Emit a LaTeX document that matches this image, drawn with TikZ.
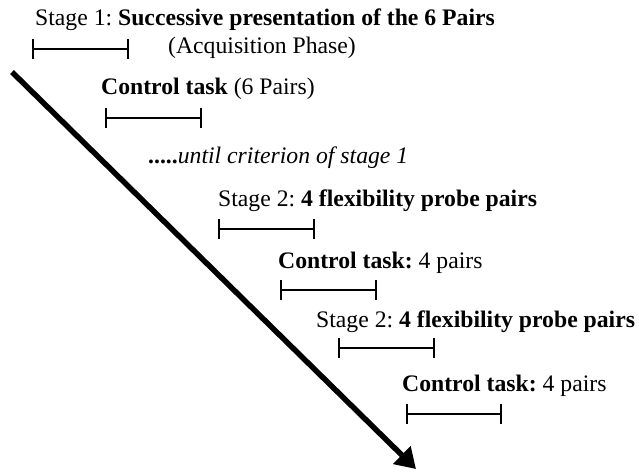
\documentclass[tikz,border=0pt]{standalone}
\usepackage{fontspec}
\setmainfont{Liberation Serif}
\usetikzlibrary{arrows.meta}
\begin{document}
\frenchspacing
\begin{tikzpicture}[x=1pt,y=-1pt,
  lbl/.style={anchor=base west,inner sep=0pt,font=\fontsize{23.7}{28}\selectfont},
  bar/.style={line width=1.6pt,{Bar[width=20pt,line width=1.6pt]}-{Bar[width=20pt,line width=1.6pt]}},
  timearrow/.style={line width=5.5pt,-{Triangle[length=20pt,width=24pt]}}]
\useasboundingbox (0,0) rectangle (639,472);
\node[lbl] (t1) at (35,25) {Stage 1: \textbf{Successive presentation of the 6 Pairs}};
\node[lbl] (t1b) at (168,53) {(Acquisition Phase)};
\coordinate (b1a) at (32,49); \coordinate (b1b) at (129,49);
\draw[bar] (b1a) -- (b1b);
\node[lbl] (t2) at (101,94) {\textbf{Control task} (6 Pairs)};
\coordinate (b2a) at (105,118); \coordinate (b2b) at (202,118);
\draw[bar] (b2a) -- (b2b);
\node[lbl] (t3) at (148,163) {\textbf{.....}\textit{until criterion of stage 1}};
\node[lbl] (t4) at (218,206) {Stage 2: \textbf{4 flexibility probe pairs}};
\coordinate (b3a) at (218,229); \coordinate (b3b) at (315,229);
\draw[bar] (b3a) -- (b3b);
\node[lbl] (t5) at (278,268) {\textbf{Control task:} 4 pairs};
\coordinate (b4a) at (280,290); \coordinate (b4b) at (377,290);
\draw[bar] (b4a) -- (b4b);
\node[lbl] (t6) at (316,327) {Stage 2: \textbf{4 flexibility probe pairs}};
\coordinate (b5a) at (338,348); \coordinate (b5b) at (435,348);
\draw[bar] (b5a) -- (b5b);
\node[lbl] (t7) at (402,391) {\textbf{Control task:} 4 pairs};
\coordinate (b6a) at (406,414); \coordinate (b6b) at (502,414);
\draw[bar] (b6a) -- (b6b);
\coordinate (as) at (12,72); \coordinate (ae) at (416,469);
\draw[timearrow] (as) -- (ae);
\end{tikzpicture}
\end{document}
